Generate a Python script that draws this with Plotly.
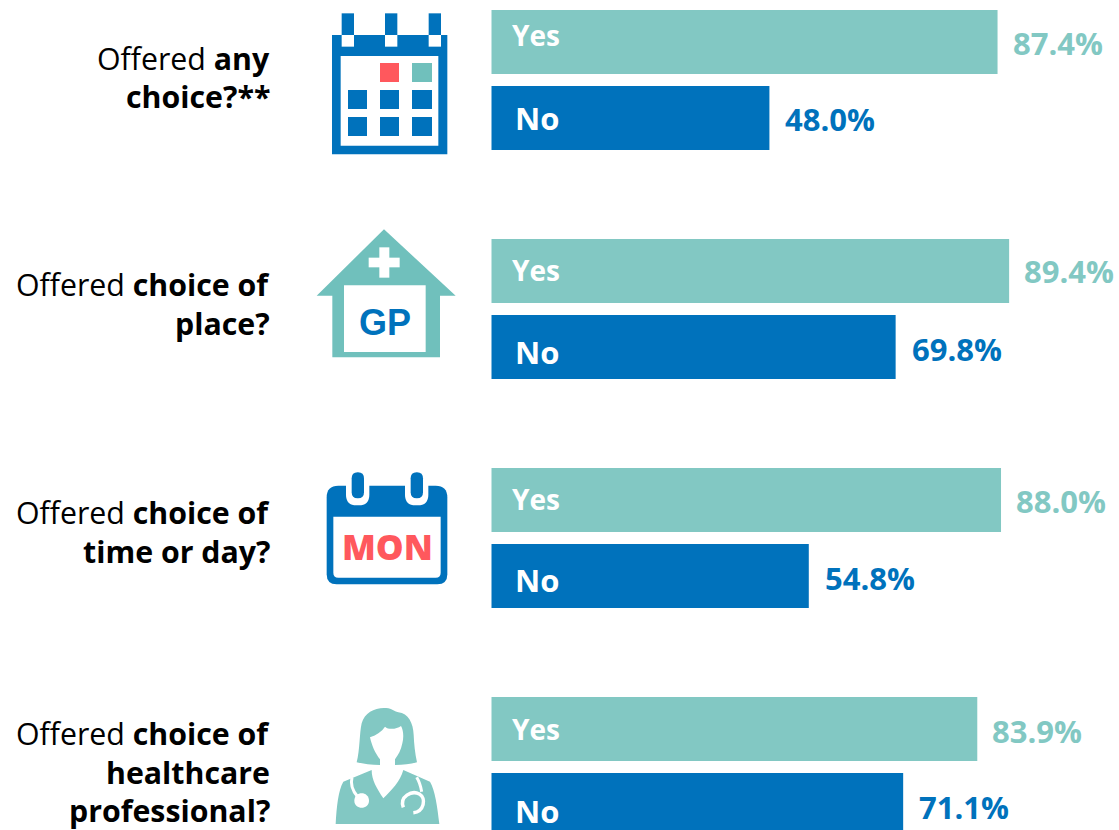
import plotly.graph_objects as go

W, H = 1119, 830
FONT = "Open Sans"
TEAL_BAR = "#82C8C3"
TEAL_ICON = "#70C0BC"
BLUE = "#0072BC"
RED = "#FF585D"

answers = ["Yes", "No"]
yes_values = [87.4, 89.4, 88.0, 83.9]
no_values = [48.0, 69.8, 54.8, 71.1]
question_lines = [
    ["Offered <b>any</b>", "<b>choice?**</b>"],
    ["Offered <b>choice of</b>", "<b>place?</b>"],
    ["Offered <b>choice of</b>", "<b>time or day?</b>"],
    ["Offered <b>choice of</b>", "<b>healthcare</b>", "<b>professional?</b>"],
]

# layout constants
BAR_LEFT = 491.5
PX_PER_UNIT = 5.79
GROUP_TOP = 42
GROUP_PITCH = 229
PAIR_PITCH = 76
BAR_H = 64
LINE_PITCH = 38.5
QUESTION_FIRST = [58.5, 284.5, 512.5, 733.5]
YES_TAG_Y = [35, 270, 499, 729]
NO_TAG_Y = [118, 352, 580, 811]
YES_VAL_Y = [43, 271, 501, 731]
NO_VAL_Y = [119, 349, 578, 807]


def py(i, j):
    return GROUP_TOP + GROUP_PITCH * i + PAIR_PITCH * j


fig = go.Figure()
groups = range(len(yes_values))
fig.add_trace(go.Bar(x=yes_values, y=[py(i, 0) for i in groups], orientation="h",
                     width=BAR_H, marker=dict(color=TEAL_BAR, line_width=0),
                     name="Yes", hoverinfo="x"))
fig.add_trace(go.Bar(x=no_values, y=[py(i, 1) for i in groups], orientation="h",
                     width=BAR_H, marker=dict(color=BLUE, line_width=0),
                     name="No", hoverinfo="x"))


def ann(text, x, y, size=30, color="#000", xanchor="center", xref="paper", xshift=0, family=FONT,
        weight=None):
    f = dict(size=size, color=color, family=family)
    if weight:
        f["weight"] = weight
    fig.add_annotation(text=text, x=x / W if xref == "paper" else x, y=1 - y / H,
                       xref=xref, yref="paper", xanchor=xanchor, yanchor="middle",
                       showarrow=False, xshift=xshift, font=f)


for i in groups:
    ann(f"<b>{yes_values[i]:.1f}%</b>", yes_values[i], YES_VAL_Y[i], size=31, color=TEAL_BAR,
        xanchor="left", xref="x", xshift=13)
    ann(f"<b>{no_values[i]:.1f}%</b>", no_values[i], NO_VAL_Y[i], size=31, color=BLUE,
        xanchor="left", xref="x", xshift=14)
    ann(f"<b>{answers[0]}</b>", 0, YES_TAG_Y[i], size=28, color="#fff", xanchor="left", xref="x", xshift=18)
    ann(f"<b>{answers[1]}</b>", 0, NO_TAG_Y[i], size=31, color="#fff", xanchor="left", xref="x", xshift=21)
    for k, line in enumerate(question_lines[i]):
        ann(line, 272, QUESTION_FIRST[i] + LINE_PITCH * k, size=30.3, xanchor="right")


def to_paper(cmds, ox, oy, s):
    """cmds: list of (letter, x, y, ...) in icon units, scaled to the page then paper fractions."""
    out = []
    for c in cmds:
        letter, nums = c[0], c[1:]
        pts = []
        for k in range(0, len(nums), 2):
            px = nums[k] * s + ox
            pyy = nums[k + 1] * s + oy
            pts.append(f"{px / W:.5f},{1 - pyy / H:.5f}")
        out.append(letter + " ".join(pts))
    return " ".join(out)


def poly(pts, ox, oy, color, s=1 / 3, line=None):
    cmds = [("M", *pts[0])] + [("L", *p) for p in pts[1:]] + [("Z",)]
    path(cmds, ox, oy, color, s, line)


def path(cmds, ox, oy, color, s=1 / 3, line=None, fill=True):
    fig.add_shape(type="path", path=to_paper(cmds, ox, oy, s), xref="paper", yref="paper",
                  fillcolor=color if fill else "rgba(0,0,0,0)",
                  line=dict(width=line[1] if line else 0, color=line[0] if line else color),
                  layer="above")


def rect(x0, y0, x1, y1, ox, oy, color):
    poly([(x0, y0), (x1, y0), (x1, y1), (x0, y1)], ox, oy, color)


def round_rect(x0, y0, x1, y1, rt, rb, ox, oy, color):
    path([("M", x0 + rt, y0), ("L", x1 - rt, y0), ("Q", x1, y0, x1, y0 + rt),
          ("L", x1, y1 - rb), ("Q", x1, y1, x1 - rb, y1), ("L", x0 + rb, y1),
          ("Q", x0, y1, x0, y1 - rb), ("L", x0, y0 + rt), ("Q", x0, y0, x0 + rt, y0), ("Z",)],
         ox, oy, color)


# icon 1: calendar with squares
ox, oy = 310, 0
rect(66, 105, 412, 463, ox, oy, BLUE)
rect(92, 168, 385, 437, ox, oy, "#fff")
for xa, xb in [(95, 132), (225, 262), (356, 393)]:
    rect(xa, 40, xb, 105, ox, oy, BLUE)
    rect(xa, 105, xb, 140, ox, oy, "#fff")
rect(210, 189, 267, 246, ox, oy, RED)
rect(306, 189, 366, 246, ox, oy, TEAL_ICON)
for ya, yb in [(270, 327), (351, 408)]:
    for xa, xb in [(114, 171), (210, 267), (306, 366)]:
        rect(xa, ya, xb, yb, ox, oy, BLUE)

# icon 2: GP house
ox, oy = 310, 220
poly([(222, 28), (437, 227), (390, 227), (390, 412), (67, 412), (67, 227), (20, 227)], ox, oy, TEAL_ICON)
rect(102, 196, 347, 396, ox, oy, "#fff")
rect(208, 82, 238, 173, ox, oy, "#fff")
rect(176, 113, 269, 142, ox, oy, "#fff")
ann("<b>GP</b>", 384.5, 322, size=36, color=BLUE, family="Liberation Sans")

# icon 3: MON calendar
ox, oy = 310, 465
round_rect(50, 62, 412, 358, 35, 30, ox, oy, BLUE)
round_rect(70, 155, 392, 338, 0, 15, ox, oy, "#fff")
for xa, xb in [(108, 178), (285, 355)]:
    round_rect(xa, 40, xb, 121, 0, 32, ox, oy, "#fff")
for xa, xb in [(125, 162), (302, 339)]:
    round_rect(xa, 22, xb, 100, 18, 18, ox, oy, BLUE)
ann("MON", 387, 546, size=35, color=RED, family=FONT, weight=800)

# icon 4: doctor
ox, oy = 320, 700
path([("M", 110, 187), ("C", 120, 150, 118, 100, 125, 70), ("C", 135, 35, 170, 20, 205, 25),
      ("C", 215, 27, 225, 35, 235, 37), ("C", 265, 40, 280, 70, 281, 105),
      ("C", 282, 130, 285, 160, 291, 187), ("C", 270, 193, 250, 195, 225, 195),
      ("L", 180, 195), ("C", 155, 195, 130, 192, 110, 187), ("Z",)], ox, oy, TEAL_BAR)
path([("M", 150, 112), ("C", 170, 105, 185, 95, 195, 80), ("C", 205, 90, 230, 88, 243, 78),
      ("C", 250, 90, 252, 110, 247, 130), ("C", 243, 150, 235, 165, 225, 178), ("L", 225, 200),
      ("L", 180, 200), ("L", 180, 178), ("C", 165, 160, 155, 135, 150, 112), ("Z",)], ox, oy, "#fff")
path([("M", 47, 372), ("C", 50, 320, 55, 270, 70, 245), ("L", 155, 210), ("C", 155, 240, 170, 265, 190, 295),
      ("C", 215, 270, 240, 245, 250, 210), ("L", 330, 245), ("C", 345, 270, 352, 320, 358, 372), ("Z",)],
     ox, oy, TEAL_BAR)
path([("M", 96, 232), ("C", 90, 255, 100, 275, 113, 290)], ox, oy, "#fff", line=("#fff", 3), fill=False)
path([("M", 103, 302), ("C", 103, 272, 147, 272, 147, 302), ("C", 147, 330, 103, 330, 103, 302), ("Z",)],
     ox, oy, "#fff")
path([("M", 290, 232), ("C", 298, 245, 302, 258, 305, 275)], ox, oy, "#fff", line=("#fff", 3), fill=False)
path([("M", 250, 322), ("C", 238, 290, 275, 270, 298, 282), ("C", 320, 295, 312, 335, 280, 338)],
     ox, oy, "#fff", line=("#fff", 3.5), fill=False)

fig.update_layout(
    width=W, height=H, margin=dict(l=0, r=0, t=0, b=0), showlegend=False,
    plot_bgcolor="#fff", paper_bgcolor="#fff", barmode="overlay",
    xaxis=dict(range=[-BAR_LEFT / PX_PER_UNIT, (W - BAR_LEFT) / PX_PER_UNIT], visible=False, fixedrange=True),
    yaxis=dict(range=[H, 0], visible=False, fixedrange=True),
    font=dict(family=FONT),
)

fig.write_html("out.html", config={"displayModeBar": False},
               post_script="document.body.style.margin='0';document.body.style.overflow='hidden';")
